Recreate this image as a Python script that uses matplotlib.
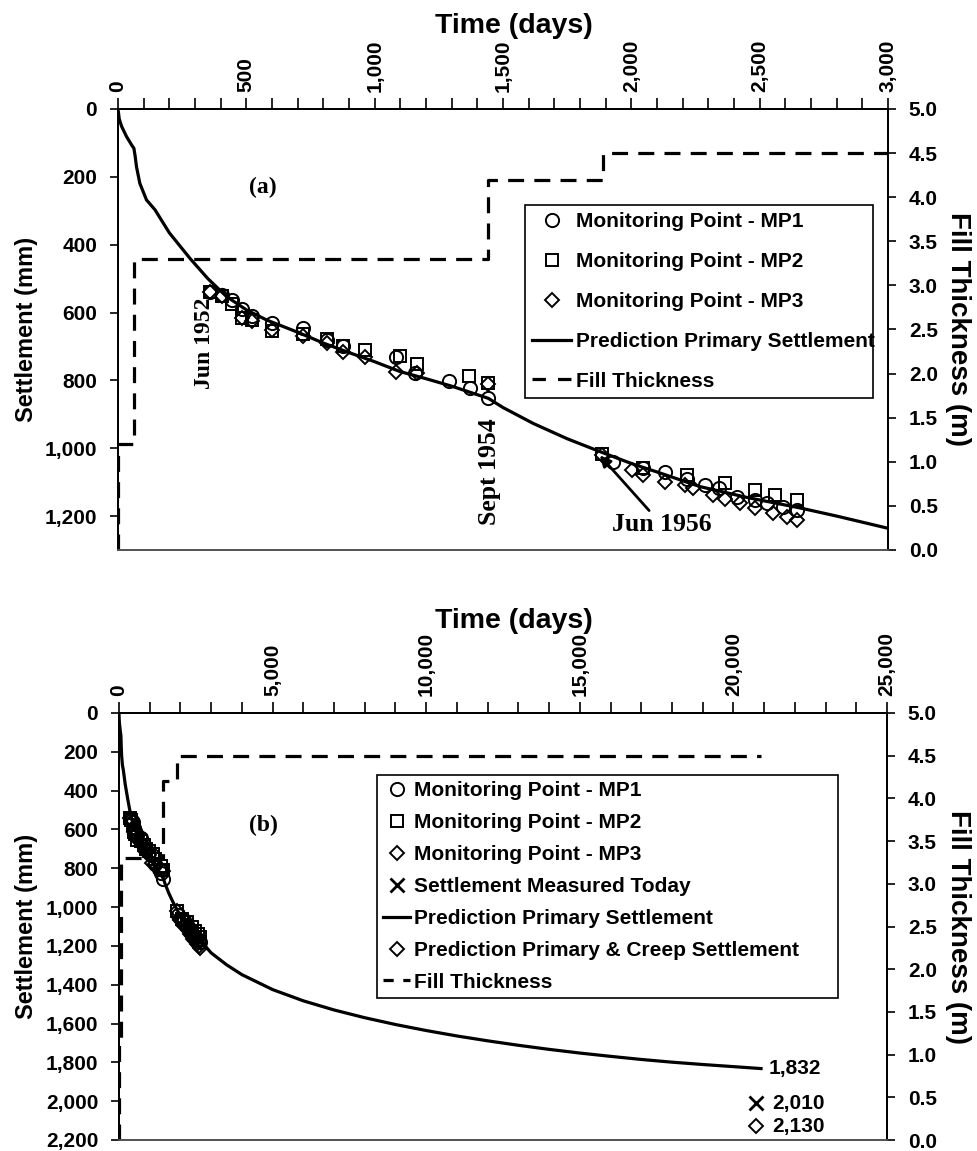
import matplotlib
matplotlib.use("Agg")
import matplotlib.pyplot as plt
from matplotlib.lines import Line2D
from matplotlib.ticker import MultipleLocator, FuncFormatter

# ---------------- data ----------------
mp1_days = [358, 405, 444, 483, 522, 600, 720, 814, 876, 1083, 1157, 1290, 1371, 1443,
            1930, 2046, 2131, 2215, 2287, 2340, 2410, 2481, 2527, 2592, 2644]
mp1_settle = [540, 548, 562, 590, 610, 630, 645, 680, 700, 730, 777, 802, 823, 853,
              1040, 1059, 1069, 1090, 1108, 1118, 1143, 1152, 1162, 1172, 1182]

mp2_days = [358, 405, 444, 483, 522, 600, 720, 814, 876, 962, 1099, 1163, 1367, 1443,
            1884, 2046, 2215, 2365, 2481, 2559, 2644]
mp2_settle = [540, 550, 575, 615, 622, 655, 662, 678, 700, 710, 728, 752, 787, 809,
              1018, 1059, 1079, 1103, 1123, 1138, 1153]

mp3_days = [358, 405, 483, 522, 600, 720, 814, 876, 962, 1083, 1163, 1443,
            1884, 2001, 2046, 2131, 2209, 2241, 2319, 2365, 2423, 2481, 2553, 2605, 2644]
mp3_settle = [540, 550, 615, 625, 650, 670, 690, 715, 730, 775, 777, 812,
              1020, 1064, 1079, 1099, 1108, 1118, 1138, 1150, 1162, 1177, 1192, 1202, 1212]

pred_days = [0, 5, 14, 33, 53, 62, 67, 72, 85, 111, 144, 200, 280, 350, 423, 500, 579,
             700, 800, 900, 1000, 1099, 1200, 1300, 1443, 1500, 1618, 1750, 1878, 2000,
             2100, 2267, 2450, 2657, 2800, 3000]
pred_settle = [0, 30, 51, 81, 106, 116, 140, 170, 219, 268, 297, 365, 440, 500, 553, 592, 622,
               658, 690, 718, 745, 774, 795, 817, 853, 880, 927, 972, 1010, 1045,
               1070, 1113, 1145, 1176, 1200, 1236]

# long-term extension of primary prediction (panel b)
pred_long_days = [3500, 4000, 5000, 6000, 7000, 8000, 9000, 10000, 11000, 12000, 13000,
                  14000, 15000, 16000, 17000, 18000, 19000, 20000, 20900]
pred_long_settle = [1297, 1348, 1425, 1483, 1530, 1570, 1605, 1636, 1664, 1689, 1712,
                    1733, 1752, 1769, 1785, 1799, 1811, 1822, 1832]

fill_days_a = [0, 0, 62, 1440, 1890, 3000]
fill_thk_a = [0.0, 1.2, 3.3, 4.2, 4.5, 4.5]
fill_days_b = [0, 0, 62, 1440, 1890, 20900]
fill_thk_b = [0.0, 1.2, 3.3, 4.2, 4.5, 4.5]

today_days = [20750]
today_settle = [2010]
creep_days = [20750]
creep_settle = [2130]

# ---------------- style ----------------
plt.rcParams['font.family'] = ['Liberation Sans', 'DejaVu Sans']
plt.rcParams['font.weight'] = 'bold'
plt.rcParams['axes.labelweight'] = 'bold'

W, H = 978, 1151
fig = plt.figure(figsize=(W / 100, H / 100), dpi=100)


def rect(l, t, r, b):
    return [l / W, 1 - b / H, (r - l) / W, (b - t) / H]


comma = FuncFormatter(lambda v, p: f"{v:,.0f}")
onedec = FuncFormatter(lambda v, p: f"{v:.1f}")

MK = dict(linestyle='none', markerfacecolor='none', markeredgecolor='black',
          markeredgewidth=1.4)
MS = 9.5
DASH = (5, 3.2)
SERIF = ['Liberation Serif', 'DejaVu Serif']


def setup(ax, xmax, xmaj, xmin, ymax, rect_px, title_off):
    ax.set_xlim(0, xmax)
    ax.xaxis.tick_top()
    ax.xaxis.set_major_locator(MultipleLocator(xmaj))
    ax.xaxis.set_minor_locator(MultipleLocator(xmin))
    ax.xaxis.set_major_formatter(comma)
    ax.yaxis.set_major_locator(MultipleLocator(200))
    ax.yaxis.set_major_formatter(comma)
    ax.set_ylim(ymax, 0)
    ax.tick_params(axis='x', which='both', direction='out', length=8, width=1.2,
                   pad=4, labelsize=15, labelrotation=90, top=True, bottom=False)
    ax.tick_params(axis='y', direction='out', length=6, width=1.2, pad=9, labelsize=15)
    for s in ax.spines.values():
        s.set_linewidth(1.3)
    ax.spines['bottom'].set_color('#555555')
    axr = ax.twinx()
    axr.set_ylim(0, 5)
    axr.yaxis.set_major_locator(MultipleLocator(0.5))
    axr.yaxis.set_major_formatter(onedec)
    axr.tick_params(axis='y', direction='out', length=6, width=1.2, pad=9, labelsize=15)
    for s in axr.spines.values():
        s.set_linewidth(1.3)
    axr.spines['bottom'].set_color('#555555')
    l, t, r, b = rect_px
    fig.text(((l + r) / 2 + 11) / W, 1 - (t - title_off) / H, 'Time (days)', fontsize=20.5,
             ha='center', va='baseline')
    fig.text(27 / W, 1 - ((t + b) / 2) / H, 'Settlement (mm)', fontsize=17,
             ha='center', va='center', rotation=90)
    fig.text(958 / W, 1 - ((t + b) / 2) / H, 'Fill Thickness (m)', fontsize=20,
             ha='center', va='center', rotation=270)
    return axr


LEG = dict(loc='upper left', mode='expand', borderaxespad=0, fontsize=15, frameon=True,
           fancybox=False, edgecolor='black', framealpha=1, facecolor='white')

# ---------------- panel (a) ----------------
pa = (118, 109, 888, 550)
ax1 = fig.add_axes(rect(*pa))
ax1r = setup(ax1, 3000, 500, 100, 1300, pa, 76)

h_pred, = ax1.plot(pred_days, pred_settle, color='black', lw=2.3,
                   label='Prediction Primary Settlement')
h1, = ax1.plot(mp1_days, mp1_settle, marker='o', ms=MS, label='Monitoring Point - MP1', **MK)
h2, = ax1.plot(mp2_days, mp2_settle, marker='s', ms=MS - 0.5, label='Monitoring Point - MP2', **MK)
h3, = ax1.plot(mp3_days, mp3_settle, marker='D', ms=MS - 2.5, label='Monitoring Point - MP3', **MK)
h_fill, = ax1r.plot(fill_days_a, fill_thk_a, color='black', lw=2.3, drawstyle='steps-post',
                    dashes=DASH, label='Fill Thickness')
h_fill_leg = Line2D([], [], color='black', lw=2.3, dashes=(4.2, 3.8), label='Fill Thickness')

ax1r.legend(handles=[h1, h2, h3, h_pred, h_fill_leg],
            bbox_to_anchor=(0.5286, 0.0, 0.4519, 0.7823),
            labelspacing=1.0, handlelength=1.85, handletextpad=0.25, borderpad=0.35,
            **LEG).get_frame().set_linewidth(1.2)

ax1.annotate('(a)', xy=((263 - 118) / 770, 1 - (187 - 109) / 441), xycoords='axes fraction',
             ha='center', va='center', fontsize=17, family=SERIF)
ax1.annotate('Jun 1952', xy=((205 - 118) / 770, 1 - (343 - 109) / 441), xycoords='axes fraction',
             ha='center', va='center', fontsize=17, family=SERIF, rotation=90)
ax1.annotate('Sept 1954', xy=((490 - 118) / 770, 1 - (472 - 109) / 441), xycoords='axes fraction',
             ha='center', va='center', fontsize=18.5, family=SERIF, rotation=90)
ax1.annotate('Jun 1956', xy=(1877, 1021), xytext=(1925, 1245), textcoords='data',
             ha='left', va='baseline', fontsize=18.5, family=SERIF,
             arrowprops=dict(arrowstyle='-|>', color='black', lw=2, mutation_scale=16,
                             shrinkA=0, shrinkB=0))

# ---------------- panel (b) ----------------
pb = (119, 713, 887, 1140)
ax2 = fig.add_axes(rect(*pb))
ax2r = setup(ax2, 25000, 5000, 1000, 2200, pb, 85)

hb_pred, = ax2.plot(pred_days + pred_long_days, pred_settle + pred_long_settle, color='black',
                    lw=2.3, label='Prediction Primary Settlement')
hb1, = ax2.plot(mp1_days, mp1_settle, marker='o', ms=MS, label='Monitoring Point - MP1', **MK)
hb2, = ax2.plot(mp2_days, mp2_settle, marker='s', ms=MS - 0.5, label='Monitoring Point - MP2', **MK)
hb3, = ax2.plot(mp3_days, mp3_settle, marker='D', ms=MS - 2.5, label='Monitoring Point - MP3', **MK)
hb_today, = ax2.plot(today_days, today_settle, marker='x', ms=MS, color='black', mew=2,
                     linestyle='none', label='Settlement Measured Today')
hb_creep, = ax2.plot(creep_days, creep_settle, marker='D', ms=MS - 2.5,
                     label='Prediction Primary & Creep Settlement', **MK)
hb_fill, = ax2r.plot(fill_days_b, fill_thk_b, color='black', lw=2.3, drawstyle='steps-post',
                     dashes=DASH, label='Fill Thickness')
hb_fill_leg = Line2D([], [], color='black', lw=2.3, dashes=(3.2, 3.0), label='Fill Thickness')

ax2r.legend(handles=[hb1, hb2, hb3, hb_today, hb_pred, hb_creep, hb_fill_leg],
            bbox_to_anchor=(0.336, 0.0, 0.600, 1 - (775 - 713) / 427),
            labelspacing=0.62, handlelength=1.3, handletextpad=0.15, borderpad=0.3,
            **LEG).get_frame().set_linewidth(1.2)

ax2.annotate('(b)', xy=((263 - 119) / 768, 1 - (825 - 713) / 427), xycoords='axes fraction',
             ha='center', va='center', fontsize=17, family=SERIF)

end_day = (pred_days + pred_long_days)[-1]
end_val = (pred_settle + pred_long_settle)[-1]
ax2.annotate(f"{end_val:,}", xy=(end_day, end_val), xytext=(8, 0), textcoords='offset pixels',
             ha='left', va='center', fontsize=15)
ax2.annotate(f"{today_settle[0]:,}", xy=(today_days[0], today_settle[0]), xytext=(16, 0),
             textcoords='offset pixels', ha='left', va='center', fontsize=15)
ax2.annotate(f"{creep_settle[0]:,}", xy=(creep_days[0], creep_settle[0]), xytext=(16, 0),
             textcoords='offset pixels', ha='left', va='center', fontsize=15)

fig.savefig('out.png', dpi=100)
